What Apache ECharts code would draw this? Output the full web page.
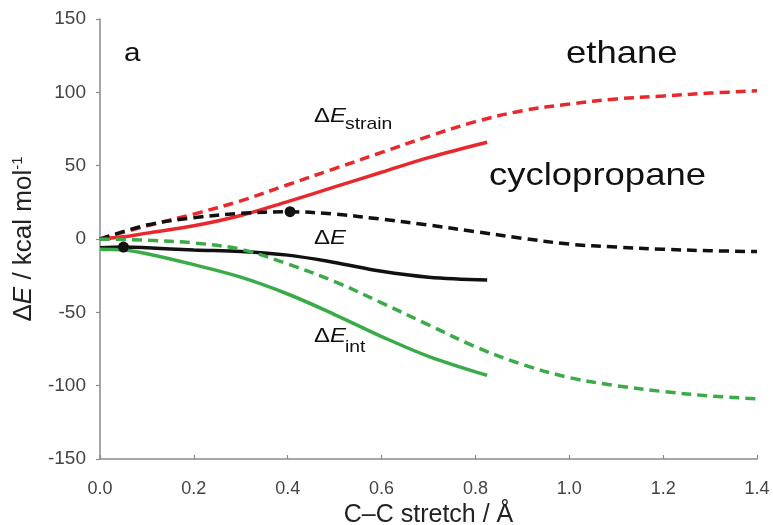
<!DOCTYPE html>
<html>
<head>
<meta charset="utf-8">
<script src="https://cdn.jsdelivr.net/npm/echarts@6/dist/echarts.min.js"></script>
<style>html,body{margin:0;padding:0;background:#fff}#c{width:773px;height:525px}</style>
</head>
<body>
<div id="c"></div>
<script>
// Ethane (dashed)
const ethX = [0, 0.1, 0.2, 0.3, 0.4, 0.5, 0.6, 0.7, 0.8, 0.9, 1.0, 1.1, 1.2, 1.3, 1.4];
const ethStrain = [0, 9, 17, 26, 37, 48, 59, 70, 80, 87.5, 92, 95.5, 97.5, 99.5, 101];
const ethDE = [0, 9.5, 14.5, 17.5, 18.6, 17, 13.5, 9.5, 5, 0.5, -3.5, -5.5, -7, -8, -8.6];
const ethInt = [0, -0.8, -2.7, -7, -17, -29, -43.5, -58.5, -73.5, -85.5, -94.5, -100, -104, -107, -109];
// Cyclopropane (solid)
const cycX = [0, 0.05, 0.1, 0.2, 0.3, 0.4, 0.5, 0.6, 0.7, 0.825];
const cycStrain = [0, 1.5, 4, 9, 16, 25.5, 35.5, 45.5, 55.5, 66];
const cycDE = [-6, -5.5, -6, -7.5, -8.5, -11, -16, -22, -26, -28];
const cycInt = [-7, -7.5, -10, -17.5, -26, -37.5, -51.5, -66.5, -80, -93];
// Marked points (ΔE)
const dotX = [0.405, 0.05];
const dotY = [18.6, -5.5];
const xTicks = [0, 0.2, 0.4, 0.6, 0.8, 1.0, 1.2, 1.4];
const yTicks = [-150, -100, -50, 0, 50, 100, 150];

const RED = '#e8282c', GREEN = '#3aab48', BLACK = '#111111';
const pair = (xs, ys) => xs.map((x, i) => [x, ys[i]]);
const dash = [10, 6];
function line(name, xs, ys, color, dashed) {
  return {
    name, type: 'line', data: pair(xs, ys), smooth: 0.35, showSymbol: false, symbol: 'none',
    lineStyle: { color, width: 3.5, type: dashed ? dash : 'solid' }, z: dashed ? 3 : 2, silent: true
  };
}
const chart = echarts.init(document.getElementById('c'));
const font = 'Liberation Sans, Arial, sans-serif';
const SX = 1.14;
function txt(x, y, text, size, italic) {
  return {
    type: 'text', x, y, scaleX: SX, silent: true,
    style: { text, font: (italic ? 'italic ' : '') + size + 'px ' + font, fill: '#111', align: 'left', verticalAlign: 'middle' }
  };
}
chart.setOption({
  animation: false,
  backgroundColor: '#fff',
  grid: { left: 100, right: 16, top: 19, bottom: 66, containLabel: false, outerBoundsMode: 'none' },
  xAxis: {
    type: 'value', min: xTicks[0], max: xTicks[xTicks.length - 1], interval: 0.2,
    axisLine: { onZero: false, lineStyle: { color: '#8a8a8a', width: 1.5 } },
    axisTick: { inside: true, length: 4, lineStyle: { color: '#8a8a8a', width: 1.2 } },
    splitLine: { show: false },
    axisLabel: { color: '#444', fontSize: 18, fontFamily: font, margin: 21, formatter: v => v.toFixed(1) },
    name: 'C–C stretch / Å', nameLocation: 'middle', nameGap: 40,
    nameTextStyle: { color: '#222', fontSize: 25, fontFamily: font }
  },
  yAxis: {
    type: 'value', min: yTicks[0], max: yTicks[yTicks.length - 1], interval: 50,
    axisLine: { show: true, onZero: false, lineStyle: { color: '#8a8a8a', width: 1.5 } },
    axisTick: { show: true, length: 4, lineStyle: { color: '#8a8a8a', width: 1.2 } },
    splitLine: { show: false },
    axisLabel: { color: '#444', fontSize: 19, fontFamily: font, margin: 14 },
    name: '{n|Δ}{i|E}{n| / kcal mol}{s|-1}', nameLocation: 'middle', nameGap: 59, nameRotate: 90,
    nameTextStyle: {
      color: '#222', fontSize: 26, fontFamily: font,
      rich: {
        n: { fontSize: 26, fontFamily: font, color: '#222' },
        i: { fontSize: 26, fontFamily: font, fontStyle: 'italic', color: '#222' },
        s: { fontSize: 15, fontFamily: font, color: '#222', padding: [0, 0, 13, 0] }
      }
    }
  },
  series: [
    line('eth strain', ethX, ethStrain, RED, true),
    line('eth dE', ethX, ethDE, BLACK, true),
    line('eth int', ethX, ethInt, GREEN, true),
    line('cyc strain', cycX, cycStrain, RED, false),
    line('cyc dE', cycX, cycDE, BLACK, false),
    line('cyc int', cycX, cycInt, GREEN, false),
    {
      type: 'scatter', data: pair(dotX, dotY), symbol: 'circle', symbolSize: 11,
      itemStyle: { color: BLACK, opacity: 1 }, z: 5, silent: true
    }
  ],
  graphic: [
    txt(124, 54, 'a', 26, false),
    txt(566, 54, 'ethane', 32, false),
    txt(489, 176, 'cyclopropane', 32, false),
    txt(314, 116, 'Δ', 21, false),
    txt(330, 116, 'E', 21, true),
    txt(345, 124, 'strain', 17, false),
    txt(314, 238, 'Δ', 21, false),
    txt(330, 238, 'E', 21, true),
    txt(314, 336, 'Δ', 21, false),
    txt(330, 336, 'E', 21, true),
    txt(345, 347, 'int', 17, false)
  ]
});
</script>
</body>
</html>
